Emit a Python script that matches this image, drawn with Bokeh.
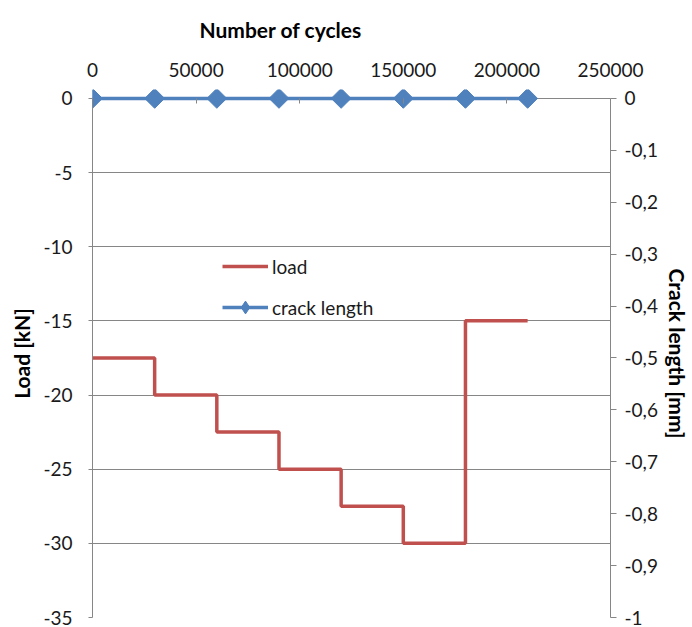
import numpy as np
from bokeh.plotting import figure
from bokeh.models import (Range1d, LinearAxis, FixedTicker, BasicTickFormatter,
                          CustomJSTickFormatter, Title, Legend, LegendItem)
from bokeh.embed import file_html
from bokeh.resources import INLINE

# ---- data ----
cycles = [0, 30000, 60000, 90000, 120000, 150000, 180000, 210000]
load_kn = [-17.5, -20, -22.5, -25, -27.5, -30, -15, -15]
crack_mm = [0, 0, 0, 0, 0, 0, 0, 0]

x_ticks = [0, 50000, 100000, 150000, 200000, 250000]
load_ticks = [0, -5, -10, -15, -20, -25, -30, -35]
crack_ticks = [0, -0.1, -0.2, -0.3, -0.4, -0.5, -0.6, -0.7, -0.8, -0.9, -1]

FONT = "Lato"
GRAY = "#868686"
TXT = "#1a1a1a"
RED = "#C0504D"
BLUE = "#4F81BD"

load_min, load_max = -35, 0
crack_min, crack_max = -1, 0
pad = 0.6 / 35  # small headroom (fraction of axis span) so the markers at 0 are not cut

p = figure(width=692, height=627, output_backend="svg", toolbar_location=None,
           x_range=Range1d(0, 250000),
           y_range=Range1d(load_min, load_max + pad * (load_max - load_min)),
           x_axis_location="above",
           min_border_left=92, min_border_right=82, min_border_top=88,
           min_border_bottom=10)
p.outline_line_color = None
p.background_fill_color = "white"
p.border_fill_color = "white"
p.extra_y_ranges = {"crack": Range1d(crack_min, crack_max + pad * (crack_max - crack_min))}

# top x axis
xa = p.xaxis[0]
xa.ticker = FixedTicker(ticks=x_ticks)
xa.formatter = BasicTickFormatter(use_scientific=False)
xa.axis_line_color = None
xa.major_tick_line_color = GRAY
xa.major_tick_in = 14
xa.major_tick_out = -9
xa.minor_tick_line_color = None
xa.major_label_standoff = 13
xa.major_label_text_font = FONT
xa.major_label_text_font_size = "19px"
xa.major_label_text_color = TXT

# left y axis
ya = p.yaxis[0]
ya.ticker = FixedTicker(ticks=load_ticks)
ya.formatter = CustomJSTickFormatter(code="return tick.toString();")
ya.bounds = (load_min, load_max)
ya.axis_line_color = GRAY
ya.major_tick_line_color = GRAY
ya.major_tick_in = 0
ya.major_tick_out = 4
ya.minor_tick_line_color = None
ya.major_label_standoff = 16
ya.major_label_text_font = FONT
ya.major_label_text_font_size = "19px"
ya.major_label_text_color = TXT
ya.axis_label = "Load [kN]"
ya.axis_label_text_font = FONT
ya.axis_label_text_font_size = "21px"
ya.axis_label_text_font_style = "bold"
ya.axis_label_text_color = "#000000"
ya.axis_label_standoff = 6

# right y axis
ra = LinearAxis(y_range_name="crack",
                ticker=FixedTicker(ticks=crack_ticks),
                bounds=(crack_min, crack_max),
                formatter=CustomJSTickFormatter(code="""
                    if (Math.abs(tick - Math.round(tick)) < 1e-9) { return Math.round(tick).toString(); }
                    return tick.toFixed(1).replace('.', ',');
                """))
ra.axis_line_color = GRAY
ra.major_tick_line_color = GRAY
ra.major_tick_in = 0
ra.major_tick_out = 6
ra.minor_tick_line_color = None
ra.major_label_standoff = 8
ra.major_label_text_font = FONT
ra.major_label_text_font_size = "19px"
ra.major_label_text_color = TXT
ra.axis_label = "Crack length [mm]"
ra.axis_label_text_font = FONT
ra.axis_label_text_font_size = "21px"
ra.axis_label_text_font_style = "bold"
ra.axis_label_text_color = "#000000"
ra.axis_label_standoff = 4
p.add_layout(ra, "right")

# grids
p.xgrid.grid_line_color = None
p.ygrid.ticker = FixedTicker(ticks=load_ticks)
p.ygrid.grid_line_color = GRAY
p.ygrid.grid_line_width = 1

# top axis title (placed like the original, left of centre)
p.add_layout(Title(text="Number of cycles", align="left", offset=107,
                   vertical_align="top",
                   text_font=FONT, text_font_size="21px", text_font_style="bold",
                   text_color="#000000", standoff=32), "above")

# series
r_load = p.step(cycles, load_kn, mode="after", line_color=RED, line_width=3.5)
r_crack_line = p.line(cycles, crack_mm, y_range_name="crack", line_color=BLUE, line_width=3.5)
# legend swatch marker (sits hidden under the first plotted marker)
r_crack_key = p.scatter(cycles[:1], crack_mm[:1], y_range_name="crack", marker="diamond",
                        size=16, fill_color=BLUE, line_color=BLUE)
r_crack_pts = p.scatter(cycles, crack_mm, y_range_name="crack", marker="square",
                        angle=np.pi / 4, size=14, fill_color=BLUE, line_color=BLUE)

legend = Legend(items=[LegendItem(label="load", renderers=[r_load]),
                       LegendItem(label="crack length", renderers=[r_crack_line, r_crack_key])],
                location=(130, 294), orientation="vertical",
                background_fill_alpha=0, border_line_color=None,
                padding=0, margin=0, spacing=9, label_height=32, glyph_height=32,
                glyph_width=46, label_standoff=4,
                label_text_font=FONT, label_text_font_size="19px", label_text_color=TXT)
p.add_layout(legend)

open("out.html", "w").write(file_html(p, INLINE))
